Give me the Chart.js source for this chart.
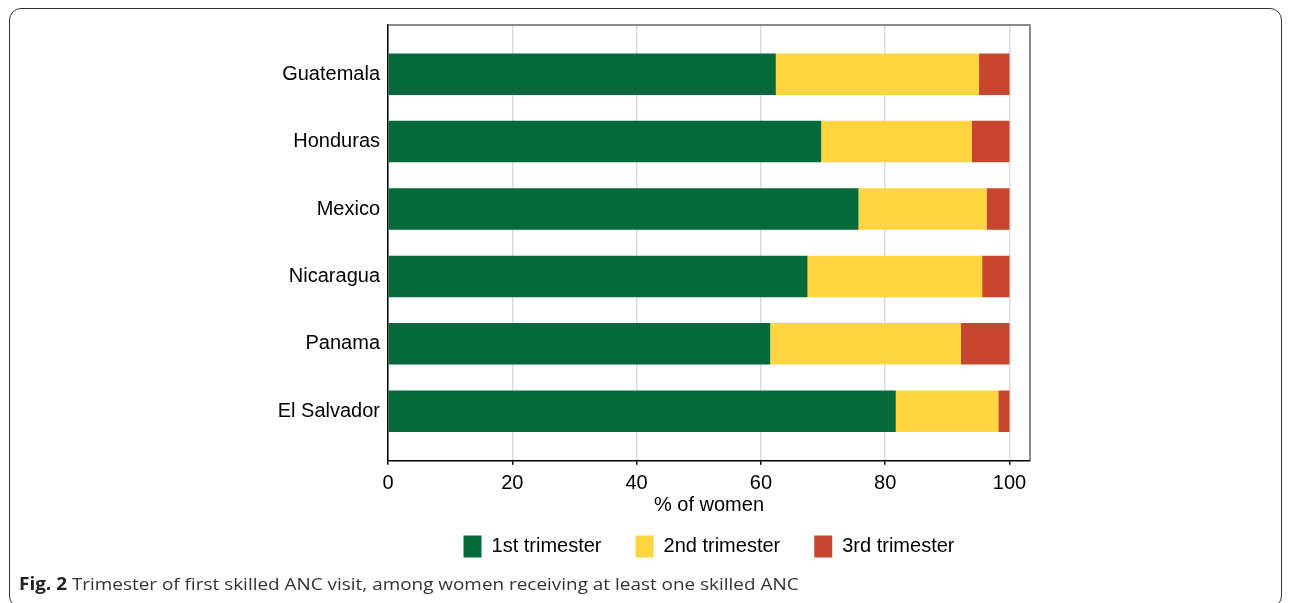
<!DOCTYPE html>
<html>
<head>
<meta charset="utf-8">
<script src="https://cdn.jsdelivr.net/npm/chart.js@4.4.1/dist/chart.umd.min.js"></script>
<style>
  html, body { margin: 0; padding: 0; background: #fff; }
  #wrap { position: relative; width: 1292px; height: 603px; overflow: hidden; }
  #frame {
    position: absolute; left: 9px; top: 8px; width: 1273px; height: 600px;
    border: 1.5px solid #333; border-radius: 12px; box-sizing: border-box;
  }
  #chart { position: absolute; left: 0; top: 0; }
  #caption {
    position: absolute; left: 19px; top: 572px; white-space: nowrap;
    font-family: "Open Sans", sans-serif; font-size: 17px; color: #333;
    transform-origin: left top;
  }
  #caption b { color: #222; }
</style>
</head>
<body>
<div id="wrap">
  <div id="frame"></div>
  <canvas id="chart" width="1292" height="603"></canvas>
  <div id="caption"><b>Fig. 2</b> Trimester of first skilled ANC visit, among women receiving at least one skilled ANC</div>
</div>
<script>
// values (% of women)
const countries = ['Guatemala', 'Honduras', 'Mexico', 'Nicaragua', 'Panama', 'El Salvador'];
const first = [62.4, 69.7, 75.7, 67.5, 61.5, 81.7];
const second = [32.7, 24.2, 20.6, 28.1, 30.7, 16.5];
const third = [4.9, 6.1, 3.7, 4.4, 7.8, 1.8];
const xTicks = [0, 20, 40, 60, 80, 100];

const FONT = '"Liberation Sans", Arial, sans-serif';

// bars sit on a numeric y scale so the gap above the first bar and below the last can match
const rows = vals => vals.map((v, i) => ({ x: v, y: i }));

// top and right edges of the plot box
const frameLines = {
    id: 'frameLines',
    afterDraw(chart) {
        const { ctx, chartArea: a } = chart;
        ctx.save();
        ctx.strokeStyle = '#666';
        ctx.lineWidth = 1.5;
        ctx.beginPath();
        ctx.moveTo(a.left, a.top);
        ctx.lineTo(a.right, a.top);
        ctx.lineTo(a.right, a.bottom);
        ctx.stroke();
        ctx.restore();
    }
};

const ctx = document.getElementById('chart').getContext('2d');
new Chart(ctx, {
    type: 'bar',
    data: {
        datasets: [
            { label: '1st trimester', data: rows(first), backgroundColor: '#05693a' },
            { label: '2nd trimester', data: rows(second), backgroundColor: '#fed53f' },
            { label: '3rd trimester', data: rows(third), backgroundColor: '#c9462e' }
        ]
    },
    options: {
        indexAxis: 'y',
        responsive: false,
        animation: false,
        barPercentage: 0.616,
        categoryPercentage: 1,
        layout: { padding: { left: 0, right: 262, top: 25, bottom: 35.6 } },
        plugins: {
            tooltip: { enabled: false },
            legend: {
                position: 'bottom',
                fullSize: false,   // centre the legend under the plot, not the page
                labels: {
                    boxWidth: 18, boxHeight: 22, padding: 34,
                    color: '#000',
                    font: { family: FONT, size: 20 }
                }
            }
        },
        scales: {
            x: {
                type: 'linear',
                stacked: true,
                min: 0, max: 103.3,
                afterBuildTicks: s => { s.ticks = xTicks.map(v => ({ value: v })); },
                afterFit: s => { s.height = 40.7; s.paddingLeft = 0; s.paddingRight = 0; },
                grid: { color: '#dcdcdc', lineWidth: 1.5, tickLength: 4, tickColor: '#000' },
                border: { color: '#000', width: 1.5 },
                ticks: { color: '#000', padding: 7, maxRotation: 0, font: { family: FONT, size: 20 } },
                title: {
                    display: true, text: '% of women', color: '#000',
                    padding: { top: 0, bottom: -16 },
                    font: { family: FONT, size: 20 }
                }
            },
            y: {
                type: 'linear',
                stacked: true,
                reverse: true,
                offset: false,
                min: -0.73, max: 5.734,
                afterBuildTicks: s => { s.ticks = countries.map((c, i) => ({ value: i })); },
                afterFit: s => { s.width = 388; s.paddingTop = 0; s.paddingBottom = 0; },
                grid: { display: false, drawTicks: false, offset: false },
                border: { color: '#000', width: 1.5 },
                ticks: {
                    color: '#000', padding: 8, autoSkip: false,
                    font: { family: FONT, size: 20 },
                    callback: v => countries[v]
                }
            }
        }
    },
    plugins: [frameLines]
});

// squeeze the caption to the width it has in the figure
const cap = document.getElementById('caption');
cap.style.transform = 'scaleX(' + (780 / cap.offsetWidth) + ')';
</script>
</body>
</html>
